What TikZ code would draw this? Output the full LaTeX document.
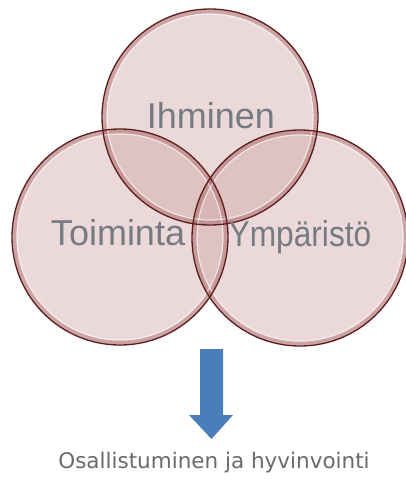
\documentclass[tikz,border=0pt]{standalone}
\usepackage{fontspec}
\setmainfont{Liberation Sans}
\newfontfamily\verd{DejaVu Sans}
\begin{document}
\begin{tikzpicture}[x=1pt,y=-1pt,
  ringfill/.style={fill=circfill,fill opacity=0.42,draw=none},
  ringglow/.style={draw=circglow,line width=4pt,draw opacity=0.45},
  ringhi/.style={draw=white,line width=1.2pt,draw opacity=0.6},
  ringline/.style={draw=circedge,line width=1.3pt},
  lbl/.style={text=lblgray,font=\fontsize{36}{36}\selectfont,inner sep=0pt,anchor=base},
  arrowshape/.style={fill=arrowblue,draw=none}]
\definecolor{circfill}{HTML}{D0A6A6}
\definecolor{circglow}{HTML}{A86464}
\definecolor{circedge}{HTML}{5A1C1C}
\definecolor{lblgray}{HTML}{767B82}
\definecolor{arrowblue}{HTML}{4A7EBB}
\definecolor{capgray}{HTML}{6A6A6A}
\useasboundingbox (0,0) rectangle (406,483);
\fill[white] (0,0) rectangle (406,483);
% circles
\coordinate (ct) at (210,117);
\coordinate (cl) at (120,237);
\coordinate (cr) at (300,238);
\foreach \c in {ct,cl,cr}{\fill[ringfill] (\c) circle[radius=108];}
\foreach \c in {ct,cl,cr}{\draw[ringglow] (\c) circle[radius=105.5];}
\foreach \c in {ct,cl,cr}{\draw[ringhi] (\c) circle[radius=103];}
\foreach \c in {ct,cl,cr}{\draw[ringline] (\c) circle[radius=108];}
% labels
\node[lbl] (ih) at (211,128) {Ihminen};
\node[lbl] (to) at (118,245) {Toiminta};
\node[lbl,xscale=0.88] (ym) at (300,246) {Ympäristö};
% arrow
\fill[arrowshape] (200,349) -- (223,349) -- (223,415) -- (233,415) -- (211.5,439) -- (189,415) -- (200,415) -- cycle;
\node[text=capgray,font=\verd\fontsize{21.5}{21.5}\selectfont,inner sep=0pt] (cap) at (214,463) {Osallistuminen ja hyvinvointi};
\end{tikzpicture}
\end{document}
